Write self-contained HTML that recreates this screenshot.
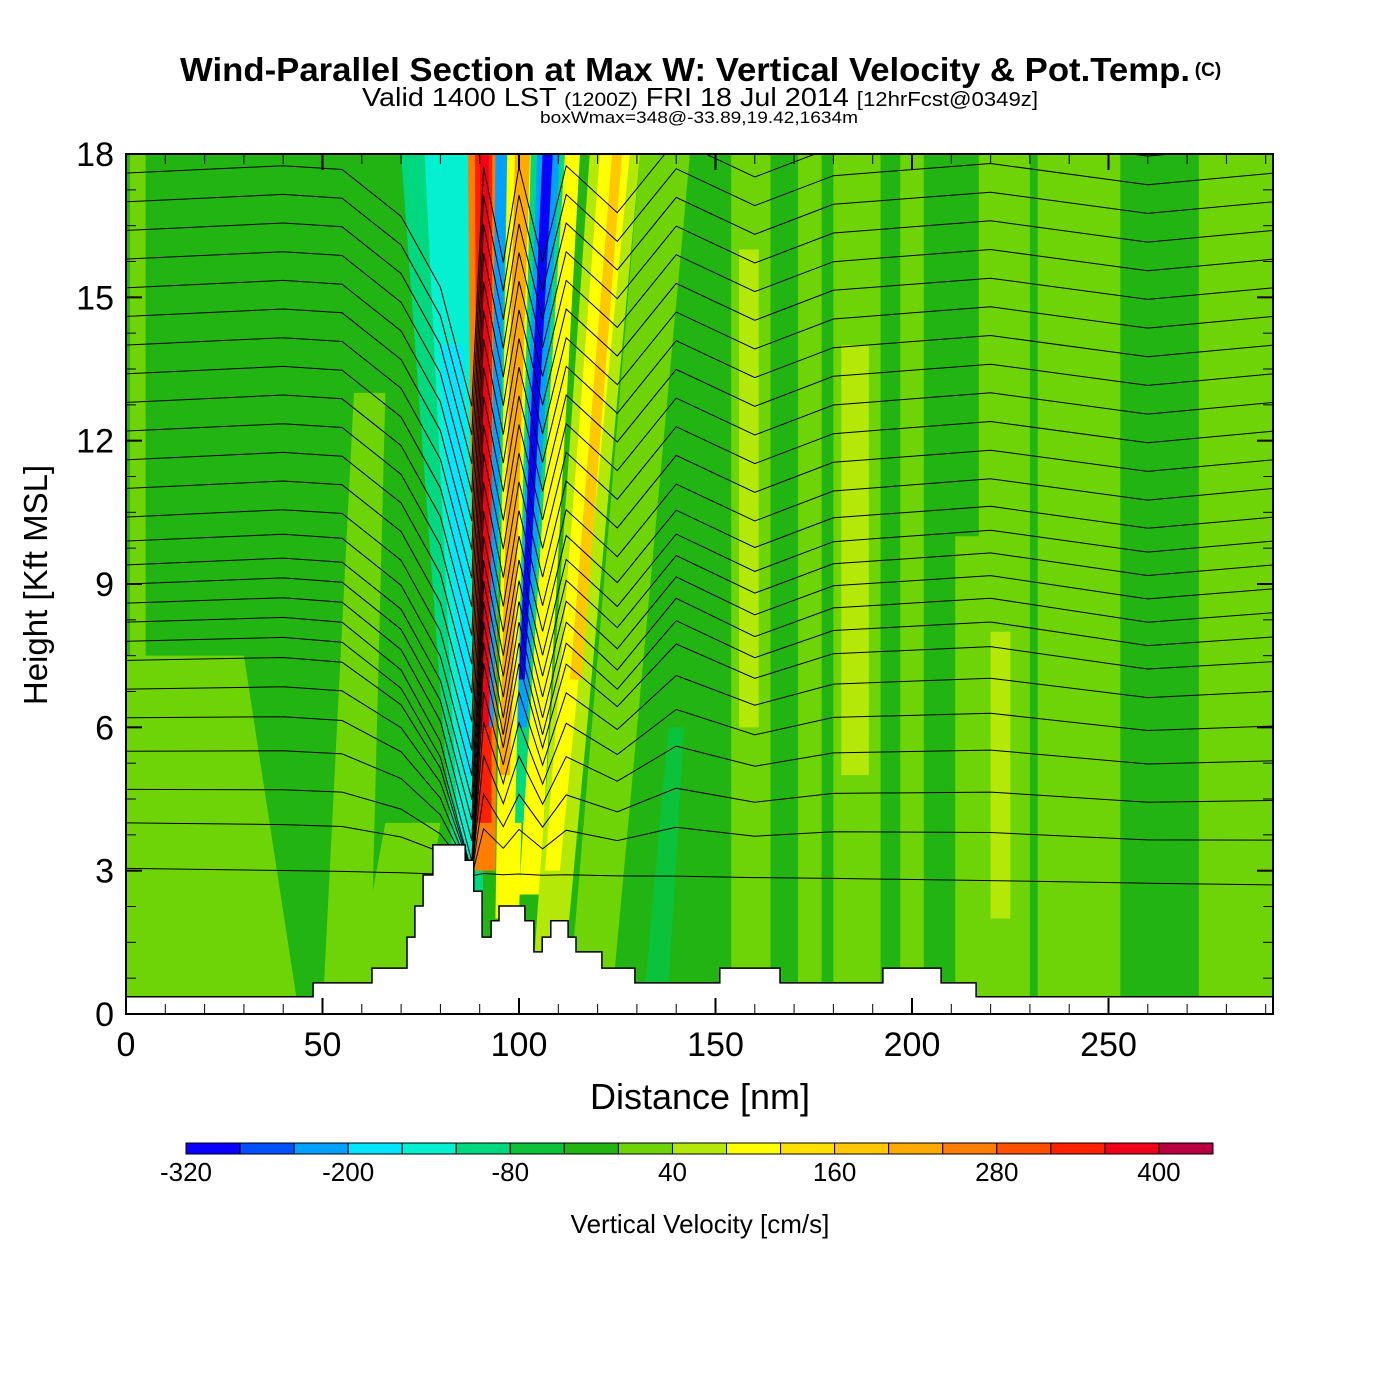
<!DOCTYPE html>
<html><head><meta charset="utf-8">
<style>
html,body{margin:0;padding:0;background:#fff;}
svg{display:block;font-family:"Liberation Sans",Arial,sans-serif;}
</style></head>
<body>
<svg id="chart" width="1400" height="1400" viewBox="0 0 1400 1400">
<defs><clipPath id="plotclip"><rect x="126" y="154" width="1147" height="860"/></clipPath></defs>
<text x="685" y="81" text-anchor="middle" font-size="33" font-weight="bold" textLength="1010" lengthAdjust="spacingAndGlyphs">Wind-Parallel Section at Max W: Vertical Velocity &amp; Pot.Temp.</text>
<text x="1208" y="76" text-anchor="middle" font-size="19" font-weight="bold">(C)</text>
<text x="700" y="106" text-anchor="middle" font-size="26" textLength="676" lengthAdjust="spacingAndGlyphs">Valid 1400 LST <tspan font-size="19">(1200Z)</tspan> FRI 18 Jul 2014 <tspan font-size="20">[12hrFcst@0349z]</tspan></text>
<text x="699" y="123" text-anchor="middle" font-size="17" textLength="318" lengthAdjust="spacingAndGlyphs">boxWmax=348@-33.89,19.42,1634m</text>
<g id="plot" clip-path="url(#plotclip)"></g>
<rect x="126" y="154" width="1147" height="860" fill="none" stroke="#000" stroke-width="2"/>
<g id="axes"></g>
<text x="700" y="1109" text-anchor="middle" font-size="36">Distance [nm]</text>
<text transform="translate(47,585) rotate(-90)" text-anchor="middle" font-size="33">Height [Kft MSL]</text>
<g id="cbar"></g>
<text x="700" y="1233" text-anchor="middle" font-size="26">Vertical Velocity [cm/s]</text>
</svg>
<script>
// ---- data ----
const binColors = ["#0a00ff","#0050ff","#00a0ff","#00e6ff","#05f0d0","#00d880","#0cc23a","#22b412","#6ed408","#b4e808","#ffff00","#ffe000","#ffc800","#ffaa00","#ff7e00","#ff5000","#ff2000","#f00018","#b80040"];
const cbarLabels = [-320,-200,-80,40,160,280,400];
const xTicks = [0,50,100,150,200,250];
const yTicks = [0,3,6,9,12,15,18];
// vertical-velocity bands: [distBotLeft, distBotRight, distTopLeft, distTopRight, w(cm/s), hBot, hTop]
const bands = [
 [0,44,0,30,20,0,7.5],
 [1,5,1,5,20,0,18],
 [50,62,58,66,20,0,13],
 [57,73,66,80,20,0,4],
 [86,91,70,90,-100,0,18],
 [85,89,76,87,-140,3,18],
 [86,88,80,86,-180,5,14],
 [91.5,93,92.5,99,-100,5,18],
 [88.8,94,87,95,240,3,18],
 [89.5,93,88.8,93.2,320,4,18],
 [90.3,92.3,90.1,92.3,360,6,18],
 [92.5,93.5,94,97,-220,6,18],
 [94,100,97,105,100,2,18],
 [95,97.7,99,102.8,200,5,18],
 [99,104,103,113,-100,4,18],
 [99.5,102,104.6,110.4,-240,6,18],
 [100,101.5,106,108.6,-300,7,18],
 [100,105.3,111.7,115.5,100,2.5,18],
 [104,112,118,130.8,60,1.3,18],
 [106.6,110.4,120.6,128.2,100,3,18],
 [113,116,123.7,126.2,160,7,18],
 [113,124,130.8,143.5,20,0.6,18],
 [132,138,138,142,-60,0.5,6],
 [154,164,154,164,20,0,18],
 [156,161,156,161,60,6,16],
 [171,177,171,177,20,0,18],
 [180,192,180,192,20,0,18],
 [182,189,182,189,60,5,14],
 [197,203,197,203,20,0,18],
 [211,219,211,219,20,0,10],
 [217,230,217,230,20,0,18],
 [220,225,220,225,60,2,8],
 [232,253,232,253,20,0,18],
 [273,292,273,292,20,0,18]
];
// terrain step profile: distance (nm) and height (kft)
const terrainDist = [0,47.6,47.6,62.6,62.6,71.5,71.5,73.5,73.5,75.6,75.6,78.1,78.1,86.3,86.3,88.5,88.5,90.6,90.6,92.9,92.9,94.9,94.9,101.5,101.5,103.8,103.8,105.9,105.9,108.1,108.1,112.5,112.5,114.5,114.5,121.1,121.1,129.5,129.5,151.1,151.1,166.4,166.4,192.6,192.6,207.4,207.4,216.3,216.3,292];
const terrainHgt  = [0.36,0.36,0.65,0.65,0.96,0.96,1.61,1.61,2.26,2.26,2.91,2.91,3.54,3.54,3.22,3.22,2.57,2.57,1.61,1.61,1.95,1.95,2.26,2.26,1.95,1.95,1.30,1.30,1.61,1.61,1.95,1.95,1.61,1.61,1.30,1.30,0.96,0.96,0.65,0.65,0.96,0.96,0.65,0.65,0.96,0.96,0.65,0.65,0.36,0.36];
// potential temperature contours: height at left and right edges, plus shared distortion
const thetaLeft  = [3.05,4.0,4.7,5.5,6.2,6.8,7.4,7.8,8.2,8.6,9.0,9.4,9.9,10.4,11.0,11.6,12.2,12.8,13.4,14.0,14.6,15.2,15.8,16.4,17.0,17.6];
const thetaRight = [2.7,3.6,4.4,5.2,5.9,6.6,7.2,7.7,8.2,8.7,9.2,9.7,10.2,10.8,11.4,12.0,12.6,13.2,13.8,14.4,15.0,15.6,16.2,16.8,17.4,18.0];
const thetaAnchorDist = [0,40,55,70,80,88,91,96,100,106,112,125,140,160,180,220,260,292];
const thetaAnchorOff  = [0,0.1,0,-1,-2.5,-5,0,-2,0,-2,0,-1,0.5,-0.3,0.3,0.5,0,0.2];

// ---- scales ----
const X0=126, X1=1273, Y0=1014, Y1=154, DMAX=(1273-126)/3.93, HMAX=18;
const xS = d => X0 + d*(X1-X0)/DMAX;
const yS = h => Y0 - h*(Y0-Y1)/HMAX;
const colorFor = w => binColors[Math.max(0,Math.min(binColors.length-1,Math.floor((w+320)/40)))];
const NS="http://www.w3.org/2000/svg";
function mk(tag, attrs, parent){const e=document.createElementNS(NS,tag);for(const k in attrs)e.setAttribute(k,attrs[k]);parent.appendChild(e);return e;}
const plot=document.getElementById('plot');

const bg=mk('rect',{x:X0,y:Y1,width:X1-X0,height:Y0-Y1,fill:binColors[7]},plot);



bands.forEach((b,i)=>{
  const [bl,br,tl,tr,w,h0,h1]=b;
  const p=mk('polygon',{points:`${xS(bl)},${yS(h0)} ${xS(br)},${yS(h0)} ${xS(tr)},${yS(h1)} ${xS(tl)},${yS(h1)}`,fill:colorFor(w)},plot);
  
  
});

thetaLeft.forEach((hl,i)=>{
  const hr=thetaRight[i];
  const wt=Math.max(0,Math.min(1,(hl-3)/5));
  const pts=thetaAnchorDist.map((d,j)=>{
    const base=hl+(hr-hl)*d/292;
    return `${xS(d).toFixed(1)},${yS(base+thetaAnchorOff[j]*wt).toFixed(1)}`;
  }).join(' ');
  const l=mk('polyline',{points:pts,fill:'none',stroke:'#000','stroke-width':1},plot);
  
  
});

let tp=terrainDist.map((d,i)=>`${xS(d).toFixed(1)},${yS(terrainHgt[i]).toFixed(1)}`);
tp.push(`${xS(292)},${Y0}`,`${X0},${Y0}`);
const terr=mk('polygon',{points:tp.join(' '),fill:'#fff',stroke:'#000','stroke-width':1.5},plot);



// axes
const ax=document.getElementById('axes');
for(let d=0; d<=290; d+=10){
  const major=d%50===0, len=major?16:10;
  mk('line',{x1:xS(d),x2:xS(d),y1:Y0,y2:Y0-len,stroke:'#000','stroke-width':major?2:1},ax);
  mk('line',{x1:xS(d),x2:xS(d),y1:Y1,y2:Y1+len,stroke:'#000','stroke-width':major?2:1},ax);
}
for(let h=0; h<=18; h+=0.75){
  const major=Math.abs(h%3)<1e-6, len=major?16:10;
  mk('line',{x1:X0,x2:X0+len,y1:yS(h),y2:yS(h),stroke:'#000','stroke-width':major?2:1},ax);
  mk('line',{x1:X1,x2:X1-len,y1:yS(h),y2:yS(h),stroke:'#000','stroke-width':major?2:1},ax);
}
xTicks.forEach(v=>{
  const t=mk('text',{x:xS(v),y:1056,'text-anchor':'middle','font-size':34},ax);
  t.textContent=v;
  
  
});
yTicks.forEach(v=>{
  const t=mk('text',{x:114,y:yS(v)+12,'text-anchor':'end','font-size':34},ax);
  t.textContent=v;
  
  
});

// colorbar
const cb=document.getElementById('cbar');
const CB0=186, CBW=1027/19;
binColors.forEach((c,i)=>{
  const r=mk('rect',{x:CB0+i*CBW,y:1143,width:CBW,height:11,fill:c,stroke:'#000','stroke-width':1},cb);
  
  
});
cbarLabels.forEach(v=>{
  const t=mk('text',{x:CB0+(v+320)/40*CBW,y:1181,'text-anchor':'middle','font-size':26},cb);
  t.textContent=v;
  
  
});
</script>
</body></html>
